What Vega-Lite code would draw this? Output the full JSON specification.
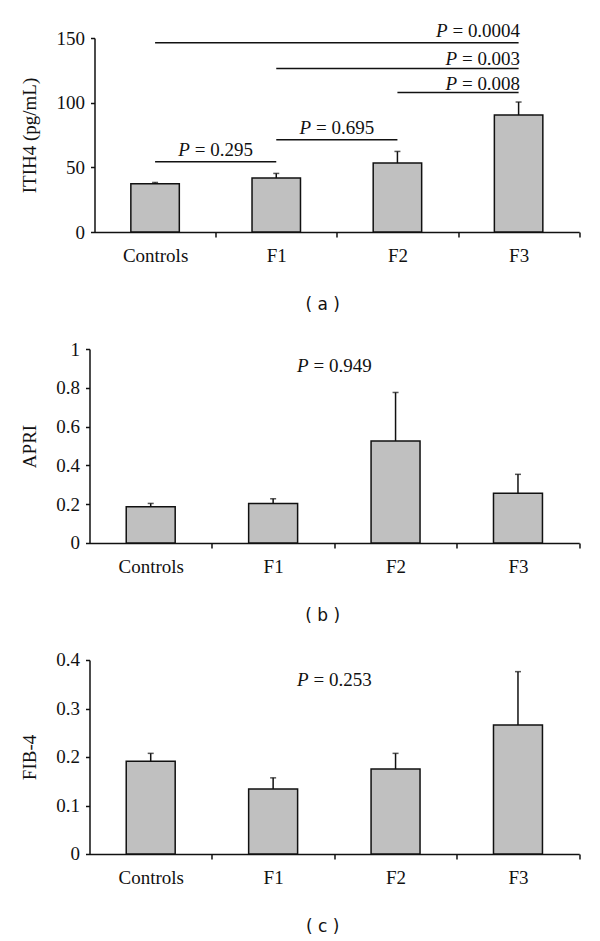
{
  "$schema": "https://vega.github.io/schema/vega-lite/v6.json",
  "padding": {"left": 20.5, "top": 22, "right": 5, "bottom": 5},
  "spacing": 27,
  "columns": 1,
  "align": "none",
  "background": "white",
  "config": {
    "view": {"stroke": null},
    "font": "Liberation Serif",
    "axis": {"grid": false, "domainColor": "#111", "domainWidth": 1.5, "tickColor": "#111", "tickWidth": 1.5, "labelFont": "Liberation Serif", "labelFontSize": 19, "labelColor": "#111", "labelOverlap": false, "titleFont": "Liberation Serif", "titleFontSize": 19, "titleFontWeight": "normal", "titleColor": "#111"},
    "axisY": {"tickSize": 4, "labelPadding": 6, "titlePadding": 16, "format": "~r"},
    "axisX": {"tickSize": 5, "labelPadding": 9.4, "labelAngle": 0, "titleFont": "DejaVu Sans", "titleFontSize": 17, "titlePadding": 31, "bandPosition": 0.5}
  },
  "datasets": {
    "itih4": [
      {"group": "Controls", "mean": 37.3, "upper": 38.3},
      {"group": "F1", "mean": 41.7, "upper": 45.3},
      {"group": "F2", "mean": 53.3, "upper": 62.3},
      {"group": "F3", "mean": 90.5, "upper": 100.5}
    ],
    "itih4_sig": [
      {"from": "Controls", "to": "F3", "y": 146.4, "ty": 150.5, "p": "0.0004", "label": "= 0.0004"},
      {"from": "F1", "to": "F3", "y": 126.5, "ty": 129.1, "p": "0.003", "label": "= 0.003"},
      {"from": "F2", "to": "F3", "y": 107.9, "ty": 110.0, "p": "0.008", "label": "= 0.008"},
      {"from": "F1", "to": "F2", "y": 71.4, "ty": 75.8, "p": "0.695", "label": "= 0.695"},
      {"from": "Controls", "to": "F1", "y": 54.4, "ty": 59.0, "p": "0.295", "label": "= 0.295"}
    ],
    "apri": [
      {"group": "Controls", "mean": 0.187, "upper": 0.204},
      {"group": "F1", "mean": 0.204, "upper": 0.228},
      {"group": "F2", "mean": 0.526, "upper": 0.776},
      {"group": "F3", "mean": 0.256, "upper": 0.354}
    ],
    "apri_sig": [
      {"from": "F1", "ty": 0.881, "label": "= 0.949"}
    ],
    "fib4": [
      {"group": "Controls", "mean": 0.191, "upper": 0.2075},
      {"group": "F1", "mean": 0.134, "upper": 0.157},
      {"group": "F2", "mean": 0.175, "upper": 0.2075},
      {"group": "F3", "mean": 0.266, "upper": 0.376}
    ],
    "fib4_sig": [
      {"from": "F1", "ty": 0.3464, "label": "= 0.253"}
    ]
  },
  "concat": [
    {
      "width": 489.7,
      "height": 194,
      "layer": [
        {
          "data": {"name": "itih4"},
          "mark": {"type": "bar", "fill": "#c0c0c0", "stroke": "#111", "strokeWidth": 1.5},
          "encoding": {
            "x": {"field": "group", "type": "nominal", "title": "( a )", "scale": {"domain": ["Controls", "F1", "F2", "F3"], "range": [5, 489.7], "paddingInner": 0.6, "paddingOuter": 0.3}, "axis": {"titleX": 232.7, "tickOffset": 60.6, "labelOffset": -60.6}},
            "y": {"field": "mean", "type": "quantitative", "title": "ITIH4 (pg/mL)", "scale": {"domain": [0, 150], "nice": false}, "axis": {"values": [0, 50, 100, 150], "tickCount": 10, "offset": -5, "labelOverlap": false}}
          }
        },
        {
          "data": {"name": "itih4"},
          "mark": {"type": "rule", "stroke": "#111", "strokeWidth": 1.5},
          "encoding": {
            "x": {"field": "group", "type": "nominal", "title": "( a )"},
            "y": {"field": "mean", "type": "quantitative", "title": "ITIH4 (pg/mL)"},
            "y2": {"field": "upper"}
          }
        },
        {
          "data": {"name": "itih4"},
          "mark": {"type": "tick", "orient": "horizontal", "size": 6, "thickness": 1.5, "color": "#111"},
          "encoding": {
            "x": {"field": "group", "type": "nominal", "title": "( a )"},
            "y": {"field": "upper", "type": "quantitative", "title": "ITIH4 (pg/mL)"}
          }
        },
        {
          "data": {"name": "itih4_sig"},
          "mark": {"type": "rule", "stroke": "#111", "strokeWidth": 1.5},
          "encoding": {
            "x": {"field": "from", "type": "nominal", "title": "( a )"},
            "x2": {"field": "to"},
            "y": {"field": "y", "type": "quantitative", "title": "ITIH4 (pg/mL)"}
          }
        },
        {
          "data": {"name": "itih4_sig"},
          "transform": [{"filter": "datum.to === 'F3'"}],
          "mark": {"type": "text", "align": "right", "baseline": "alphabetic", "dx": 1.5, "font": "Liberation Serif", "fontSize": 19, "color": "#111"},
          "encoding": {
            "x": {"field": "to", "type": "nominal", "title": "( a )"},
            "y": {"field": "ty", "type": "quantitative", "title": "ITIH4 (pg/mL)"},
            "text": {"field": "label"}
          }
        },
        {
          "data": {"name": "itih4_sig"},
          "transform": [{"filter": "datum.p === '0.0004'"}],
          "mark": {"type": "text", "align": "right", "baseline": "alphabetic", "dx": -70.9, "font": "Liberation Serif", "fontStyle": "italic", "fontSize": 19, "color": "#111"},
          "encoding": {
            "x": {"field": "to", "type": "nominal", "title": "( a )"},
            "y": {"field": "ty", "type": "quantitative", "title": "ITIH4 (pg/mL)"},
            "text": {"value": "P"}
          }
        },
        {
          "data": {"name": "itih4_sig"},
          "transform": [{"filter": "datum.p === '0.003' || datum.p === '0.008'"}],
          "mark": {"type": "text", "align": "right", "baseline": "alphabetic", "dx": -61.5, "font": "Liberation Serif", "fontStyle": "italic", "fontSize": 19, "color": "#111"},
          "encoding": {
            "x": {"field": "to", "type": "nominal", "title": "( a )"},
            "y": {"field": "ty", "type": "quantitative", "title": "ITIH4 (pg/mL)"},
            "text": {"value": "P"}
          }
        },
        {
          "data": {"name": "itih4_sig"},
          "transform": [{"filter": "datum.to !== 'F3'"}],
          "mark": {"type": "text", "align": "right", "baseline": "alphabetic", "dx": 37.3, "font": "Liberation Serif", "fontSize": 19, "color": "#111"},
          "encoding": {
            "x": {"field": "from", "type": "nominal", "bandPosition": 1.75, "title": "( a )"},
            "y": {"field": "ty", "type": "quantitative", "title": "ITIH4 (pg/mL)"},
            "text": {"field": "label"}
          }
        },
        {
          "data": {"name": "itih4_sig"},
          "transform": [{"filter": "datum.to !== 'F3'"}],
          "mark": {"type": "text", "align": "left", "baseline": "alphabetic", "dx": -37.3, "font": "Liberation Serif", "fontStyle": "italic", "fontSize": 19, "color": "#111"},
          "encoding": {
            "x": {"field": "from", "type": "nominal", "bandPosition": 1.75, "title": "( a )"},
            "y": {"field": "ty", "type": "quantitative", "title": "ITIH4 (pg/mL)"},
            "text": {"value": "P"}
          }
        }
      ]
    },
    {
      "width": 489.7,
      "height": 194,
      "layer": [
        {
          "data": {"name": "apri"},
          "mark": {"type": "bar", "fill": "#c0c0c0", "stroke": "#111", "strokeWidth": 1.5},
          "encoding": {
            "x": {"field": "group", "type": "nominal", "title": "( b )", "scale": {"domain": ["Controls", "F1", "F2", "F3"], "paddingInner": 0.6, "paddingOuter": 0.3}, "axis": {"titleX": 232.7, "tickOffset": 61.2, "labelOffset": -61.2}},
            "y": {"field": "mean", "type": "quantitative", "title": "APRI", "scale": {"domain": [0, 1], "nice": false}, "axis": {"values": [0, 0.2, 0.4, 0.6, 0.8, 1], "tickCount": 10, "labelOverlap": false}}
          }
        },
        {
          "data": {"name": "apri"},
          "mark": {"type": "rule", "stroke": "#111", "strokeWidth": 1.5},
          "encoding": {
            "x": {"field": "group", "type": "nominal", "title": "( b )"},
            "y": {"field": "mean", "type": "quantitative", "title": "APRI"},
            "y2": {"field": "upper"}
          }
        },
        {
          "data": {"name": "apri"},
          "mark": {"type": "tick", "orient": "horizontal", "size": 6, "thickness": 1.5, "color": "#111"},
          "encoding": {
            "x": {"field": "group", "type": "nominal", "title": "( b )"},
            "y": {"field": "upper", "type": "quantitative", "title": "APRI"}
          }
        },
        {
          "data": {"name": "apri_sig"},
          "mark": {"type": "text", "align": "right", "baseline": "alphabetic", "dx": 37.3, "font": "Liberation Serif", "fontSize": 19, "color": "#111"},
          "encoding": {
            "x": {"field": "from", "type": "nominal", "bandPosition": 1.75, "title": "( b )"},
            "y": {"field": "ty", "type": "quantitative", "title": "APRI"},
            "text": {"field": "label"}
          }
        },
        {
          "data": {"name": "apri_sig"},
          "mark": {"type": "text", "align": "left", "baseline": "alphabetic", "dx": -37.3, "font": "Liberation Serif", "fontStyle": "italic", "fontSize": 19, "color": "#111"},
          "encoding": {
            "x": {"field": "from", "type": "nominal", "bandPosition": 1.75, "title": "( b )"},
            "y": {"field": "ty", "type": "quantitative", "title": "APRI"},
            "text": {"value": "P"}
          }
        }
      ]
    },
    {
      "width": 489.7,
      "height": 194,
      "layer": [
        {
          "data": {"name": "fib4"},
          "mark": {"type": "bar", "fill": "#c0c0c0", "stroke": "#111", "strokeWidth": 1.5},
          "encoding": {
            "x": {"field": "group", "type": "nominal", "title": "( c )", "scale": {"domain": ["Controls", "F1", "F2", "F3"], "paddingInner": 0.6, "paddingOuter": 0.3}, "axis": {"titleX": 232.7, "tickOffset": 61.2, "labelOffset": -61.2}},
            "y": {"field": "mean", "type": "quantitative", "title": "FIB-4", "scale": {"domain": [0, 0.4], "nice": false}, "axis": {"values": [0, 0.1, 0.2, 0.3, 0.4], "tickCount": 10, "labelOverlap": false}}
          }
        },
        {
          "data": {"name": "fib4"},
          "mark": {"type": "rule", "stroke": "#111", "strokeWidth": 1.5},
          "encoding": {
            "x": {"field": "group", "type": "nominal", "title": "( c )"},
            "y": {"field": "mean", "type": "quantitative", "title": "FIB-4"},
            "y2": {"field": "upper"}
          }
        },
        {
          "data": {"name": "fib4"},
          "mark": {"type": "tick", "orient": "horizontal", "size": 6, "thickness": 1.5, "color": "#111"},
          "encoding": {
            "x": {"field": "group", "type": "nominal", "title": "( c )"},
            "y": {"field": "upper", "type": "quantitative", "title": "FIB-4"}
          }
        },
        {
          "data": {"name": "fib4_sig"},
          "mark": {"type": "text", "align": "right", "baseline": "alphabetic", "dx": 37.3, "font": "Liberation Serif", "fontSize": 19, "color": "#111"},
          "encoding": {
            "x": {"field": "from", "type": "nominal", "bandPosition": 1.75, "title": "( c )"},
            "y": {"field": "ty", "type": "quantitative", "title": "FIB-4"},
            "text": {"field": "label"}
          }
        },
        {
          "data": {"name": "fib4_sig"},
          "mark": {"type": "text", "align": "left", "baseline": "alphabetic", "dx": -37.3, "font": "Liberation Serif", "fontStyle": "italic", "fontSize": 19, "color": "#111"},
          "encoding": {
            "x": {"field": "from", "type": "nominal", "bandPosition": 1.75, "title": "( c )"},
            "y": {"field": "ty", "type": "quantitative", "title": "FIB-4"},
            "text": {"value": "P"}
          }
        }
      ]
    }
  ]
}
